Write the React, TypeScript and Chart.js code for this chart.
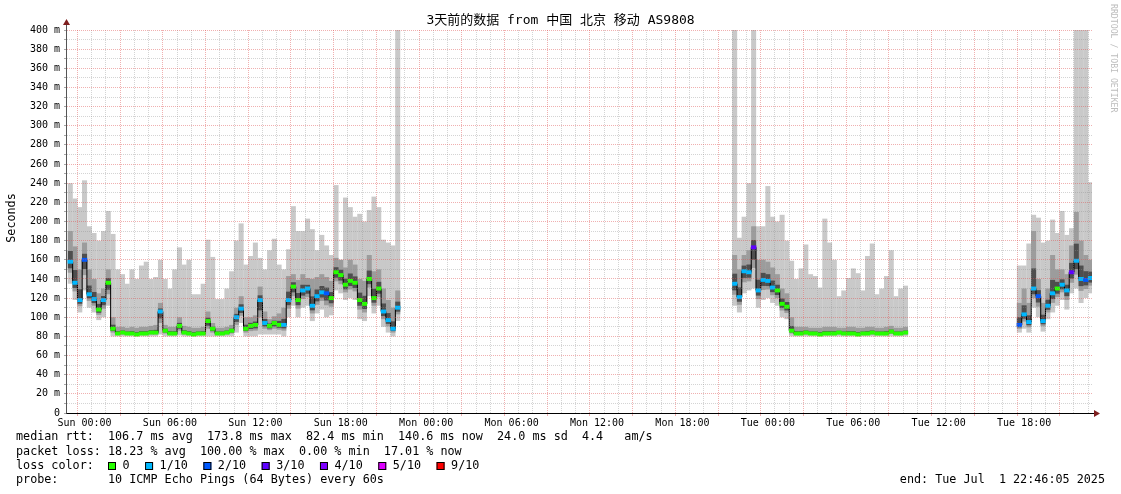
import React, { useEffect, useRef } from 'react';
import { Chart, registerables } from 'chart.js';

Chart.register(...registerables);

// ---------- texts ----------
const TITLE = '3天前的数据 from 中国 北京 移动 AS9808';
const Y_TITLE = 'Seconds';
const WATERMARK = 'RRDTOOL / TOBI OETIKER';
const LEGEND_RTT = 'median rtt:  106.7 ms avg  173.8 ms max  82.4 ms min  140.6 ms now  24.0 ms sd  4.4   am/s';
const LEGEND_LOSS = 'packet loss: 18.23 % avg  100.00 % max  0.00 % min  17.01 % now';
const LEGEND_LOSS_COLOR = 'loss color:';
const LEGEND_PROBE = 'probe:       10 ICMP Echo Pings (64 Bytes) every 60s';
const LEGEND_END = 'end: Tue Jul  1 22:46:05 2025';

// x tick labels, every 6 hours starting Sun 00:00
const xTickLabels = ['Sun 00:00', 'Sun 06:00', 'Sun 12:00', 'Sun 18:00', 'Mon 00:00', 'Mon 06:00',
  'Mon 12:00', 'Mon 18:00', 'Tue 00:00', 'Tue 06:00', 'Tue 12:00', 'Tue 18:00'];
const lossLabels = ['0', '1/10', '2/10', '3/10', '4/10', '5/10', '9/10'];
const lossColors = ['#26ff00', '#00b8ff', '#0059ff', '#5e00ff', '#7e00ff', '#dd00ff', '#ff0000'];

// time axis in hours relative to Sun 00:00 (start Sat 22:46:05, end Tue 22:46:05)
const X_MIN = -1.232;
const X_MAX = 70.768;
const BIN_HOURS = 1 / 3;
const Y_MIN = 0;
const Y_MAX = 400;

// ---------- data (ms), one value per 20-minute bin ----------
// segment 1: bins -3 .. 66
const seg1Start = -3;
const seg1Median = [
  158, 136, 118, 160, 124, 119, 108, 118, 136, 88,
  83, 84, 83, 83, 82, 83, 83, 84, 84, 106,
  86, 83, 83, 91, 84, 83, 82, 83, 83, 96,
  88, 83, 83, 84, 86, 100, 109, 88, 91, 92,
  118, 94, 91, 94, 92, 92, 118, 132, 118, 128,
  130, 112, 122, 126, 125, 120, 147, 144, 134, 138,
  136, 118, 114, 140, 120, 130, 106, 97, 88, 110,
];
const seg1Loss = [
  1, 1, 1, 2, 1, 1, 0, 1, 0, 0,
  0, 0, 0, 0, 0, 0, 0, 0, 0, 1,
  0, 0, 0, 0, 0, 0, 0, 0, 0, 0,
  0, 0, 0, 0, 0, 1, 1, 0, 0, 0,
  1, 1, 0, 0, 0, 1, 1, 0, 0, 1,
  1, 1, 1, 1, 2, 0, 0, 0, 0, 0,
  0, 0, 0, 0, 0, 0, 1, 1, 1, 1,
];
const seg1High = [
  240, 224, 215, 243, 195, 188, 180, 190, 211, 187,
  150, 145, 135, 150, 140, 154, 158, 140, 142, 160,
  140, 130, 150, 173, 155, 160, 124, 124, 135, 181,
  163, 119, 119, 130, 148, 180, 198, 155, 164, 178,
  162, 150, 170, 182, 155, 150, 171, 216, 190, 190,
  203, 192, 170, 186, 175, 165, 238, 160, 225, 215,
  205, 208, 200, 212, 226, 215, 181, 178, 175, 400,
];
const seg1Upper = [
  190, 174, 150, 178, 150, 140, 125, 130, 150, 100,
  90, 90, 89, 90, 89, 90, 90, 91, 92, 115,
  92, 90, 90, 100, 91, 90, 89, 89, 90, 106,
  94, 89, 89, 90, 92, 110, 122, 100, 100, 102,
  132, 106, 98, 101, 104, 110, 143, 145, 139, 145,
  141, 140, 142, 145, 142, 138, 162, 160, 152, 160,
  155, 140, 138, 165, 148, 150, 130, 118, 110, 128,
];
const seg1Low = [
  135, 118, 105, 128, 110, 105, 97, 100, 112, 80,
  80, 80, 80, 80, 80, 80, 80, 80, 80, 82,
  80, 80, 80, 81, 80, 80, 80, 80, 80, 80,
  80, 80, 80, 80, 80, 84, 94, 80, 80, 80,
  82, 82, 82, 82, 82, 80, 100, 112, 100, 110,
  112, 96, 104, 108, 100, 102, 128, 125, 118, 120,
  118, 98, 96, 122, 104, 112, 90, 84, 80, 96,
];

// segment 2: bins 137 .. 173
const seg2Start = 137;
const seg2Median = [
  135, 121, 148, 147, 173, 128, 139, 138, 131, 128,
  114, 111, 86, 83, 83, 84, 83, 83, 82, 83,
  83, 83, 84, 83, 83, 83, 82, 83, 83, 84,
  83, 83, 83, 85, 83, 83, 84,
];
const seg2Loss = [
  1, 1, 1, 1, 3, 1, 1, 1, 1, 0,
  0, 0, 0, 0, 0, 0, 0, 0, 0, 0,
  0, 0, 0, 0, 0, 0, 0, 0, 0, 0,
  0, 0, 0, 0, 0, 0, 0,
];
const seg2High = [
  400, 183, 205, 240, 400, 195, 195, 237, 205, 200,
  207, 180, 159, 140, 151, 176, 145, 143, 131, 203,
  178, 160, 122, 128, 141, 151, 146, 128, 164, 177,
  124, 130, 143, 170, 122, 130, 133,
];
const seg2Upper = [
  165, 150, 165, 170, 195, 160, 160, 158, 152, 145,
  130, 125, 100, 90, 90, 90, 89, 89, 89, 90,
  90, 90, 89, 89, 90, 90, 89, 89, 90, 90,
  89, 89, 90, 91, 89, 89, 90,
];
const seg2Low = [
  112, 105, 125, 128, 130, 110, 118, 120, 115, 112,
  100, 98, 80, 80, 80, 80, 80, 80, 80, 80,
  80, 80, 80, 80, 80, 80, 80, 80, 80, 80,
  80, 80, 80, 80, 80, 80, 80,
];

// segment 3: bins 197 .. 212
const seg3Start = 197;
const seg3Median = [92, 103, 95, 130, 122, 96, 112, 125, 130, 134, 128, 147, 159, 140, 139, 141];
const seg3Loss = [2, 1, 1, 1, 2, 1, 1, 1, 0, 1, 1, 3, 1, 1, 2, 1];
const seg3High = [154, 154, 177, 207, 204, 178, 180, 202, 188, 211, 186, 193, 400, 400, 400, 241];
const seg3Upper = [115, 130, 115, 190, 140, 115, 130, 165, 150, 150, 145, 175, 210, 180, 165, 160];
const seg3Low = [84, 88, 84, 110, 100, 85, 98, 105, 112, 118, 108, 125, 130, 115, 120, 125];

const segments = [
  { start: seg1Start, med: seg1Median, loss: seg1Loss, hi: seg1High, up: seg1Upper, lo: seg1Low },
  { start: seg2Start, med: seg2Median, loss: seg2Loss, hi: seg2High, up: seg2Upper, lo: seg2Low },
  { start: seg3Start, med: seg3Median, loss: seg3Loss, hi: seg3High, up: seg3Upper, lo: seg3Low },
];

const MONO = "'DejaVu Sans Mono', 'Noto Sans CJK SC', monospace";
const GRID_MINOR = 'rgba(143,143,143,0.38)';
const GRID_MAJOR = 'rgba(222,79,79,0.45)';
const ARROW = '#7f1f1f';

function buildData() {
  const light: any[] = [];
  const mid: any[] = [];
  const dark: any[] = [];
  const marks: any[] = [];
  const markColors: string[] = [];
  const line: any[] = [];
  segments.forEach((s) => {
    s.med.forEach((m, i) => {
      const x = (s.start + i) * BIN_HOURS;
      const lo = s.lo[i];
      const up = s.up[i];
      light.push({ x, y: [lo, s.hi[i]] });
      mid.push({ x, y: [(lo + m) / 2, up] });
      dark.push({ x, y: [m - (m - lo) * 0.3, m + (up - m) * 0.35] });
      marks.push({ x, y: [m - 1.7, m + 1.7] });
      markColors.push(lossColors[s.loss[i]]);
      line.push({ x, y: m });
    });
    line.push({ x: (s.start + s.med.length - 0.5) * BIN_HOURS, y: null });
  });
  return { light, mid, dark, marks, markColors, line };
}

const hourTicks: number[] = [];
for (let h = Math.ceil(X_MIN); h <= Math.floor(X_MAX); h++) hourTicks.push(h);

const decor = {
  id: 'decor',
  afterDraw(chart: any) {
    const ctx = chart.ctx as CanvasRenderingContext2D;
    const a = chart.chartArea;
    ctx.save();
    // axes
    const ax = a.left - 0.5;
    const ay = a.bottom + 0.5;
    ctx.lineWidth = 1;
    ctx.strokeStyle = '#555';
    ctx.beginPath();
    ctx.moveTo(ax, a.top - 5);
    ctx.lineTo(ax, ay);
    ctx.stroke();
    ctx.strokeStyle = '#000';
    ctx.beginPath();
    ctx.moveTo(ax, ay);
    ctx.lineTo(a.right + 2, ay);
    ctx.stroke();
    ctx.fillStyle = ARROW;
    ctx.beginPath();
    ctx.moveTo(ax, a.top - 11);
    ctx.lineTo(ax - 3.5, a.top - 5);
    ctx.lineTo(ax + 3.5, a.top - 5);
    ctx.closePath();
    ctx.fill();
    ctx.beginPath();
    ctx.moveTo(a.right + 8, ay);
    ctx.lineTo(a.right + 2, ay - 3.5);
    ctx.lineTo(a.right + 2, ay + 3.5);
    ctx.closePath();
    ctx.fill();

    // title
    ctx.fillStyle = '#000';
    ctx.textBaseline = 'middle';
    ctx.textAlign = 'center';
    ctx.font = `13px ${MONO}`;
    ctx.fillText(TITLE, 560.5, 21);

    // y title
    ctx.save();
    ctx.translate(11.5, 218);
    ctx.rotate(-Math.PI / 2);
    ctx.font = `11.75px ${MONO}`;
    ctx.fillText(Y_TITLE, 0, 0);
    ctx.restore();

    // watermark
    ctx.save();
    ctx.translate(1113, 4);
    ctx.rotate(Math.PI / 2);
    ctx.textAlign = 'left';
    ctx.font = `8.2px ${MONO}`;
    ctx.fillStyle = '#bdbdbd';
    ctx.fillText(WATERMARK, 0, 0);
    ctx.restore();

    // legend
    ctx.textAlign = 'left';
    ctx.font = `11.75px ${MONO}`;
    ctx.fillStyle = '#000';
    ctx.fillText(LEGEND_RTT, 16, 437);
    ctx.fillText(LEGEND_LOSS, 16, 452);
    ctx.fillText(LEGEND_LOSS_COLOR, 16, 466);
    let bx = 108;
    lossLabels.forEach((lab, i) => {
      ctx.fillStyle = lossColors[i];
      ctx.fillRect(bx, 462, 8, 8);
      ctx.strokeStyle = '#000';
      ctx.strokeRect(bx + 0.5, 462.5, 7, 7);
      ctx.fillStyle = '#000';
      ctx.fillText(lab, bx + 14.5, 466);
      bx += 14.5 + ctx.measureText(lab).width + 15.5;
    });
    ctx.fillText(LEGEND_PROBE, 16, 480);
    ctx.textAlign = 'right';
    ctx.fillText(LEGEND_END, 1105, 480);
    ctx.restore();
  },
};

export default function App() {
  const ref = useRef<HTMLCanvasElement>(null);
  useEffect(() => {
    const d = buildData();
    const barCommon = { type: 'bar', grouped: false, categoryPercentage: 1, borderWidth: 0, borderSkipped: false };
    const chart = new Chart(ref.current as HTMLCanvasElement, {
      type: 'bar',
      data: {
        datasets: [
          { ...barCommon, data: d.light, backgroundColor: '#c9c9c9', barPercentage: 1.06, order: 5 },
          { ...barCommon, data: d.mid, backgroundColor: '#9c9c9c', barPercentage: 1.06, order: 4 },
          { ...barCommon, data: d.dark, backgroundColor: '#4e4e4e', barPercentage: 1.06, order: 3 },
          {
            type: 'line', data: d.line, borderColor: '#000', borderWidth: 1, stepped: 'middle',
            pointRadius: 0, spanGaps: false, order: 2,
          },
          { ...barCommon, data: d.marks, backgroundColor: d.markColors, barPercentage: 1.0, order: 1 },
        ] as any,
      },
      options: {
        responsive: false,
        animation: false,
        events: [],
        layout: { padding: { top: 30, right: 29, left: 0, bottom: 0 } },
        plugins: { legend: { display: false }, title: { display: false }, tooltip: { enabled: false } },
        scales: {
          x: {
            type: 'linear',
            min: X_MIN,
            max: X_MAX,
            offset: false,
            afterFit: (s: any) => { s.height = 81; },
            afterBuildTicks: (s: any) => { s.ticks = hourTicks.map((v) => ({ value: v })); },
            ticks: {
              autoSkip: false, maxRotation: 0, minRotation: 0, padding: 1, color: '#000',
              font: { family: MONO, size: 10 },
              callback: (v: any) => (v % 6 === 0 && v >= 0 ? xTickLabels[v / 6] : ''),
            },
            grid: {
              z: 1, lineWidth: 1, tickLength: 3,
              color: (c: any) => (c.tick && Math.round(c.tick.value) % 3 === 0 ? GRID_MAJOR : GRID_MINOR),
              tickColor: (c: any) => (c.tick && Math.round(c.tick.value) % 3 === 0 ? GRID_MAJOR : 'rgba(0,0,0,0)'),
            },
            border: { display: false, dash: [1, 1] },
          },
          y: {
            min: Y_MIN,
            max: Y_MAX,
            afterFit: (s: any) => { s.width = 67; },
            ticks: {
              stepSize: 10, autoSkip: false, padding: 4, color: '#000',
              font: { family: MONO, size: 10 },
              callback: (v: any) => (v % 20 === 0 ? (v === 0 ? '0' : `${v} m`) : ''),
            },
            grid: {
              z: 1, lineWidth: 1, tickLength: 3,
              color: (c: any) => (c.tick && c.tick.value % 20 === 0 ? GRID_MAJOR : GRID_MINOR),
              tickColor: '#a8a8a8',
            },
            border: { display: false, dash: [1, 1] },
          },
        },
      } as any,
      plugins: [decor],
    } as any);
    return () => chart.destroy();
  }, []);
  return (
    <div style={{ position: 'absolute', left: 0, top: 0, width: 1121, height: 494, background: '#fff' }}>
      <canvas ref={ref} width={1121} height={494} style={{ width: 1121, height: 494 }} />
    </div>
  );
}
